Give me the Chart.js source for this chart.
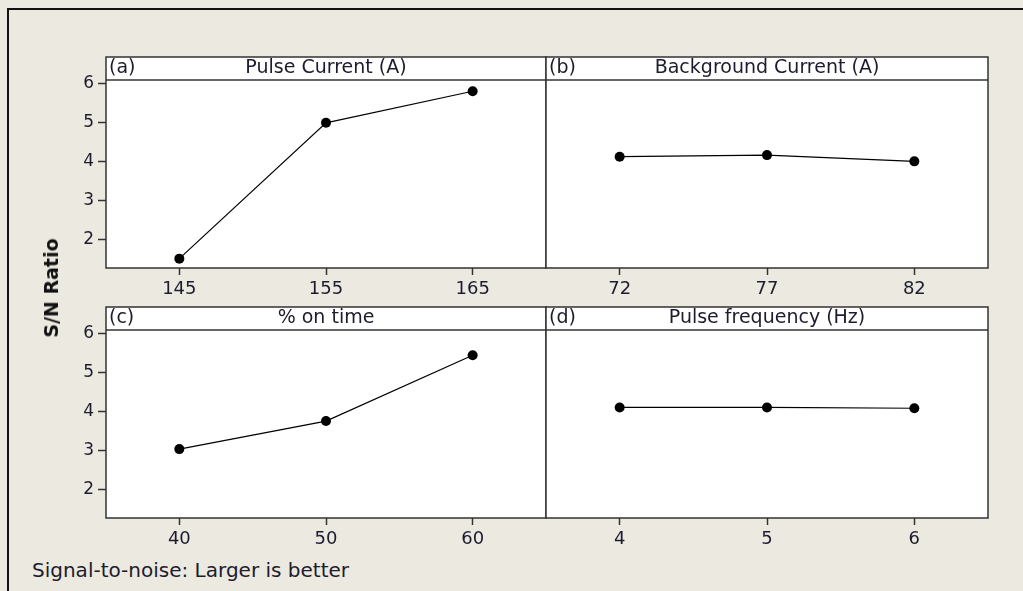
<!DOCTYPE html>
<html>
<head>
<meta charset="utf-8">
<script src="https://cdn.jsdelivr.net/npm/chart.js@4.4.1/dist/chart.umd.min.js"></script>
<style>
    html, body { margin: 0; padding: 0; }
    body { width: 1023px; height: 591px; background: #ece9e1; position: relative; overflow: hidden; font-family: 'DejaVu Sans', sans-serif; }
    .frame { position: absolute; left: 7px; top: 8px; width: 1100px; height: 700px; border-top: 2px solid #111; border-left: 2px solid #111; }
    canvas { position: absolute; }
    #ylabel { position: absolute; left: 51px; top: 288px; transform: translate(-50%, -50%) rotate(-90deg); font-weight: bold; font-size: 19px; color: #111; white-space: nowrap; }
    #footer { position: absolute; left: 32px; top: 558px; font-size: 20px; color: #1c1c2c; white-space: nowrap; }
</style>
</head>
<body>
<div class="frame"></div>
<canvas id="panelA" width="510" height="260" style="left:50px;top:40px"></canvas>
<canvas id="panelB" width="470" height="260" style="left:540px;top:40px"></canvas>
<canvas id="panelC" width="510" height="260" style="left:50px;top:290px"></canvas>
<canvas id="panelD" width="470" height="260" style="left:540px;top:290px"></canvas>
<div id="ylabel">S/N Ratio</div>
<div id="footer">Signal-to-noise: Larger is better</div>

<script>
// Main effects plot for S/N ratios (larger is better)

const panelLetters = ['(a)', '(b)', '(c)', '(d)'];
const panelTitles = ['Pulse Current (A)', 'Background Current (A)', '% on time', 'Pulse frequency (Hz)'];

const pulseCurrentLevels = ['145', '155', '165'];
const pulseCurrentSN = [1.51, 5.00, 5.81];

const backgroundCurrentLevels = ['72', '77', '82'];
const backgroundCurrentSN = [4.13, 4.17, 4.01];

const onTimeLevels = ['40', '50', '60'];
const onTimeSN = [3.04, 3.76, 5.45];

const pulseFrequencyLevels = ['4', '5', '6'];
const pulseFrequencySN = [4.11, 4.11, 4.09];

const yTicks = [2, 3, 4, 5, 6];
const yMin = 1.27;
const yMax = 6.1;

Chart.defaults.font.family = "'DejaVu Sans', sans-serif";
Chart.defaults.color = '#1c1c2c';

const lineColor = '#333333';
const headerHeight = 23;

// white plot area + frame + strip header with panel title
const panelFrame = {
    id: 'panelFrame',
    beforeDraw(chart) {
        const a = chart.chartArea;
        const ctx = chart.ctx;
        ctx.save();
        ctx.fillStyle = '#ffffff';
        ctx.fillRect(a.left, a.top - headerHeight, a.right - a.left, a.bottom - a.top + headerHeight);
        ctx.restore();
    },
    afterDraw(chart, args, opts) {
        const a = chart.chartArea;
        const ctx = chart.ctx;
        ctx.save();
        ctx.strokeStyle = lineColor;
        ctx.lineWidth = 1.5;
        ctx.strokeRect(a.left, a.top - headerHeight, a.right - a.left, a.bottom - a.top + headerHeight);
        ctx.beginPath();
        ctx.moveTo(a.left, a.top);
        ctx.lineTo(a.right, a.top);
        ctx.stroke();

        ctx.fillStyle = '#1c1c2c';
        ctx.font = "19px 'DejaVu Sans', sans-serif";
        ctx.textBaseline = 'middle';
        const midY = a.top - headerHeight / 2;
        ctx.textAlign = 'left';
        ctx.fillText(opts.letter, a.left + 3, midY);
        ctx.textAlign = 'center';
        ctx.fillText(opts.title, (a.left + a.right) / 2, midY);
        ctx.restore();
    }
};

function createPanel(canvasId, labels, data, letter, title, showY, padding) {
    const ctx = document.getElementById(canvasId);
    if (!ctx) {
        console.error(`Canvas ${canvasId} not found`);
        return;
    }

    window[canvasId + '_instance'] = new Chart(ctx, {
        type: 'line',
        data: {
            labels: labels,
            datasets: [{
                data: data,
                borderColor: '#000000',
                borderWidth: 1.2,
                tension: 0,
                fill: false,
                pointRadius: 5,
                pointBackgroundColor: '#000000',
                pointBorderColor: '#000000',
                pointBorderWidth: 0
            }]
        },
        options: {
            responsive: false,
            animation: false,
            events: [],
            layout: {
                autoPadding: false,
                padding: padding
            },
            plugins: {
                legend: { display: false },
                tooltip: { enabled: false },
                panelFrame: { letter: letter, title: title }
            },
            scales: {
                x: {
                    type: 'category',
                    offset: true,
                    border: { display: false },
                    grid: {
                        drawOnChartArea: false,
                        drawTicks: true,
                        tickLength: 7,
                        tickWidth: 1.5,
                        color: lineColor,
                        offset: false
                    },
                    ticks: {
                        padding: 4,
                        font: { size: 18 },
                        maxRotation: 0
                    },
                    afterFit: function (scale) {
                        scale.height = 32;
                    }
                },
                y: {
                    display: showY,
                    min: yMin,
                    max: yMax,
                    border: { display: false },
                    grid: {
                        drawOnChartArea: false,
                        drawTicks: true,
                        tickLength: 8,
                        tickWidth: 1.5,
                        color: lineColor
                    },
                    ticks: {
                        padding: 4,
                        font: { size: 17 }
                    },
                    afterBuildTicks: function (scale) {
                        scale.ticks = yTicks.map(v => ({ value: v }));
                    },
                    afterFit: function (scale) {
                        // hidden y axes on the right column take no room
                        scale.width = showY ? 56 : 0;
                    }
                }
            }
        },
        plugins: [panelFrame]
    });
}

createPanel('panelA', pulseCurrentLevels, pulseCurrentSN, panelLetters[0], panelTitles[0], true,
    { top: 40, right: 14, bottom: 0, left: 0 });
createPanel('panelB', backgroundCurrentLevels, backgroundCurrentSN, panelLetters[1], panelTitles[1], false,
    { top: 40, right: 22, bottom: 0, left: 6 });
createPanel('panelC', onTimeLevels, onTimeSN, panelLetters[2], panelTitles[2], true,
    { top: 40, right: 14, bottom: 0, left: 0 });
createPanel('panelD', pulseFrequencyLevels, pulseFrequencySN, panelLetters[3], panelTitles[3], false,
    { top: 40, right: 22, bottom: 0, left: 6 });
</script>
</body>
</html>
